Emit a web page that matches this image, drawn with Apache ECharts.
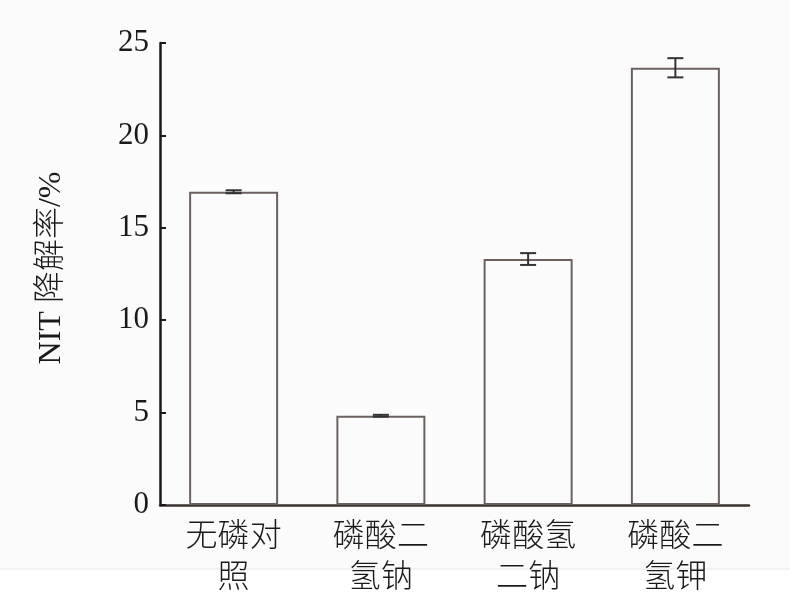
<!DOCTYPE html>
<html>
<head>
<meta charset="utf-8">
<script src="https://cdn.jsdelivr.net/npm/echarts@6/dist/echarts.min.js"></script>
<style>html,body{margin:0;padding:0;background:#fff;}#c{width:790px;height:607px;}</style>
</head>
<body>
<div id="c"></div>
<script>
const categories = ['无磷对\n照', '磷酸二\n氢钠', '磷酸氢\n二钠', '磷酸二\n氢钾'];
const values = [16.95, 4.83, 13.31, 23.66];
const errors = [0.08, 0.05, 0.32, 0.52];
const yTicks = [0, 5, 10, 15, 20, 25];

const chart = echarts.init(document.getElementById('c'));
const errData = values.map((v, i) => [i, v - errors[i], v + errors[i]]);
chart.setOption({
  backgroundColor: '#fbfbfb',
  animation: false,
  graphic: [
    { type: 'rect', shape: { x: 0, y: 569, width: 790, height: 38 }, style: { fill: '#ffffff' }, z: -10 },
    { type: 'line', shape: { x1: 0, y1: 569, x2: 790, y2: 569 }, style: { stroke: '#e6e6e6', lineWidth: 1 }, z: -9 }
  ],
  grid: { left: 160, right: 41, top: 43, bottom: 102 },
  xAxis: {
    type: 'category',
    data: categories,
    axisLine: { lineStyle: { color: '#3a3330', width: 2.5 } },
    axisTick: { show: false },
    axisLabel: {
      fontFamily: 'Noto Sans CJK SC', fontWeight: 300, fontSize: 32, lineHeight: 41, color: '#1a1a1a', margin: 8
    }
  },
  yAxis: {
    type: 'value',
    min: yTicks[0], max: yTicks[yTicks.length - 1], interval: 5,
    name: 'NIT 降解率/%',
    nameLocation: 'middle',
    nameGap: 92,
    nameTextStyle: { fontFamily: 'Liberation Serif, Noto Sans CJK SC', fontWeight: 300, fontSize: 32, color: '#1a1a1a', padding: [0, 0, 0, 12] },
    axisLine: { show: true, lineStyle: { color: '#1a1a1a', width: 2.5 } },
    axisTick: { show: true, inside: true, length: 6, lineStyle: { color: '#1a1a1a', width: 2 } },
    axisLabel: { fontFamily: 'Liberation Serif', fontSize: 31, color: '#1a1a1a', margin: 11 },
    splitLine: { show: false }
  },
  series: [
    {
      type: 'bar',
      data: values,
      barWidth: 89,
      itemStyle: { color: 'rgba(255,255,255,0)', borderColor: '#6b6260', borderWidth: 2 }
    },
    {
      type: 'custom',
      data: errData,
      z: 10,
      renderItem: function (params, api) {
        const x = api.value(0);
        const lo = api.coord([x, api.value(1)]);
        const hi = api.coord([x, api.value(2)]);
        const hw = 8;
        const st = { stroke: '#333', lineWidth: 2 };
        return {
          type: 'group',
          children: [
            { type: 'line', shape: { x1: lo[0], y1: lo[1], x2: hi[0], y2: hi[1] }, style: st },
            { type: 'line', shape: { x1: lo[0] - hw, y1: lo[1], x2: lo[0] + hw, y2: lo[1] }, style: st },
            { type: 'line', shape: { x1: hi[0] - hw, y1: hi[1], x2: hi[0] + hw, y2: hi[1] }, style: st }
          ]
        };
      }
    }
  ]
});
</script>
</body>
</html>
